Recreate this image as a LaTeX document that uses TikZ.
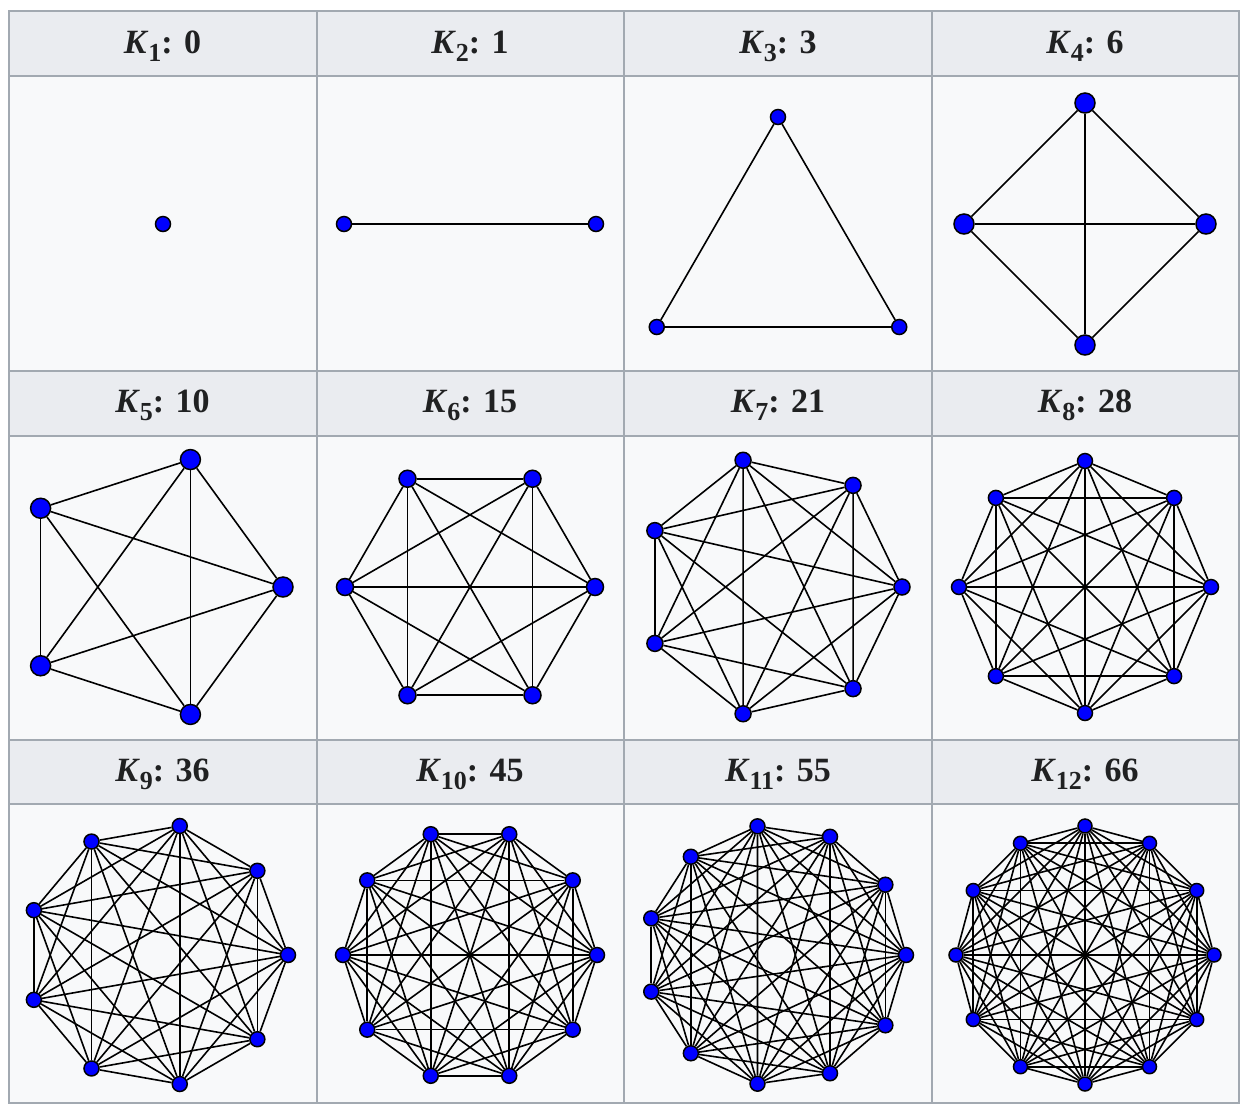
\documentclass[tikz,border=0pt]{standalone}
\usepackage{fontspec}
\setmainfont{Liberation Serif}
\usetikzlibrary{backgrounds}
\definecolor{rule}{HTML}{A2A9B1}
\definecolor{headfill}{HTML}{EAECF0}
\definecolor{cellfill}{HTML}{F8F9FA}
\definecolor{ink}{HTML}{202122}
\definecolor{vblue}{HTML}{0000FF}
\pgfdeclarelayer{edges}
\pgfsetlayers{background,edges,main}

\begin{document}
\begin{tikzpicture}[
    x=0.5pt, y=-0.5pt,
    vertex/.style={circle, draw=black, fill=vblue, line width=0.75pt, inner sep=0pt},
    edge/.style={draw=black, line width=0.8pt},
    head/.style={font=\fontsize{17}{20}\selectfont\bfseries, text=ink, anchor=base, inner sep=0pt},
    grid/.style={draw=rule, line width=1pt},
  ]

  \useasboundingbox (0,0) rectangle (1250,1116);

  % Tabelle: Kopfzeilen, Zellen und Linien ganz hinten
  \begin{scope}[on background layer]
    \fill[white] (0,0) rectangle (1250,1116);
    \foreach \top/\mid/\low in {11/76/371, 371/436/740, 740/804/1103} {
      \fill[headfill] (8.5,\top) rectangle (1238.5,\mid);
      \fill[cellfill] (8.5,\mid) rectangle (1238.5,\low);
    }
    \draw[grid] (8.5,11) rectangle (1238.5,1103);
    \foreach \x in {316.5,624,931.5} \draw[grid] (\x,11) -- (\x,1103);
    \foreach \y in {76,371,436,740,804} \draw[grid] (8.5,\y) -- (1238.5,\y);
  \end{scope}

  % Überschriften K_n: Anzahl der Kanten
  \foreach \n/\m/\x/\y in {1/0/162.5/53.5, 2/1/470/53.5, 3/3/778/53.5, 4/6/1085/53.5,
                           5/10/162.5/412.5, 6/15/470/412.5, 7/21/778/412.5, 8/28/1085/412.5,
                           9/36/162.5/781.5, 10/45/470/781.5, 11/55/778/781.5, 12/66/1085/781.5}
    \node[head] (h\n) at (\x,\y)
      {\textit{K}\raisebox{-4pt}{\fontsize{13}{13}\selectfont\n}: \m};

  % Ecken auf dem Kreis, danach alle Kanten dahinter
  \foreach \n/\cx/\cy/\r/\s/\d in {1/163/224/0/0/7.5pt, 2/470/224/126/0/7.5pt,
                                   3/778/257/140/90/7.5pt, 4/1085/224/121/0/10pt,
                                   5/149/587/134/0/10pt, 6/470/587/125/0/8.5pt,
                                   7/772/587/130/0/8pt, 8/1085/587/126/0/7.5pt,
                                   9/157/955/131/0/7.5pt, 10/470/955/127/0/7.5pt,
                                   11/776/955/130/0/7.5pt, 12/1085/955/129/0/7pt} {
    \begin{scope}[shift={(\cx,\cy)}]
      \foreach \i in {1,...,\n}
        \node[vertex, minimum size=\d] (v\n-\i) at ({-\s-360*(\i-1)/\n}:\r) {};
    \end{scope}
    \begin{pgfonlayer}{edges}
      \foreach \i in {1,...,\n} \foreach \j in {1,...,\n} {
        \ifnum\i<\j \draw[edge] (v\n-\i) -- (v\n-\j); \fi
      }
    \end{pgfonlayer}
  }

\end{tikzpicture}
\end{document}
